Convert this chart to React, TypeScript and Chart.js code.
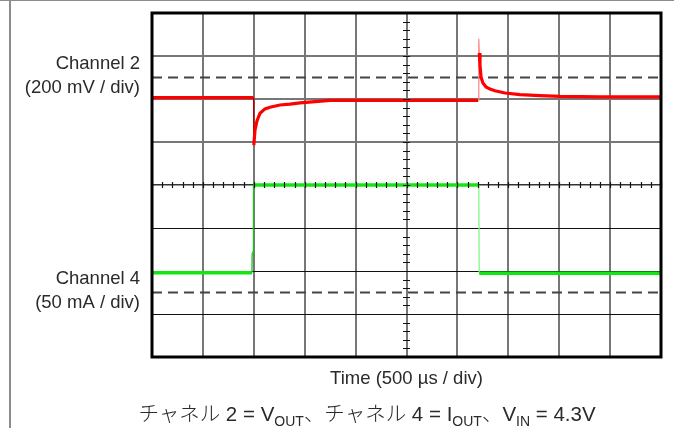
import React, { useEffect, useRef } from "react";
import { Chart, registerables } from "chart.js";

Chart.register(...registerables);

// Time axis in µs (500 µs / div), vertical values in screen divisions (0 = bottom, 8 = top)
const timeTicksStep = 500;
const timeMax = 5000;
const divMax = 8;

// Channel 2 (VOUT, red)
const ch2Time = [0, 998, 1000, 1012, 1031, 1061, 1110, 1159, 1257, 1356, 1454, 1601, 1749, 2500, 3205, 3210, 3215, 3222, 3232, 3251, 3281, 3320, 3369, 3468, 3615, 3811, 4008, 4401, 5000];
const ch2Div = [6.03, 6.03, 4.93, 5.28, 5.49, 5.67, 5.77, 5.81, 5.86, 5.88, 5.91, 5.94, 5.97, 5.97, 5.97, 7.4, 7.07, 6.79, 6.51, 6.37, 6.28, 6.23, 6.19, 6.14, 6.1, 6.08, 6.06, 6.05, 6.05];

// Channel 4 (IOUT, green)
const ch4Time = [0, 982, 984, 995, 997, 3210, 3214, 5000];
const ch4Div = [1.96, 1.96, 2.42, 2.42, 4.0, 4.0, 1.95, 1.95];

// Dashed reference (ground) levels of the two channels
const refLevels = [6.5, 1.5];

// Text
const xTitle = "Time (500 µs / div)";
const ch2Label = ["Channel 2", "(200 mV / div)"];
const ch4Label = ["Channel 4", "(50 mA / div)"];

const FONT = '"Liberation Sans", Arial, sans-serif';
const TEXT = "#2a2a2a";

const toPoints = (xs: number[], ys: number[]) => xs.map((x, i) => ({ x, y: ys[i] }));

const isEdge = (ctx: any) => Math.abs(ctx.p1.parsed.x - ctx.p0.parsed.x) <= 5;

const scopePlugin = {
  id: "scope",
  afterDatasetsDraw(chart: any) {
    const { ctx, chartArea: a, scales } = chart;
    const xs = scales.x;
    const ys = scales.y;
    const cx = xs.getPixelForValue(timeMax / 2);
    const cy = ys.getPixelForValue(divMax / 2);
    ctx.save();
    ctx.strokeStyle = "#111";
    ctx.lineWidth = 1.2;
    ctx.beginPath();
    for (let t = 0; t <= timeMax; t += timeTicksStep / 5) {
      const px = Math.round(xs.getPixelForValue(t)) + 0.5;
      ctx.moveTo(px, cy - 3);
      ctx.lineTo(px, cy + 3);
    }
    for (let v = 0; v <= divMax + 1e-9; v += 0.2) {
      const py = Math.round(ys.getPixelForValue(v)) + 0.5;
      ctx.moveTo(cx - 3.5, py);
      ctx.lineTo(cx + 3.5, py);
    }
    ctx.stroke();
    ctx.strokeStyle = "#000";
    ctx.lineWidth = 3;
    ctx.strokeRect(a.left, a.top, a.right - a.left, a.bottom - a.top);
    ctx.restore();
  },
  afterDraw(chart: any) {
    const { ctx, chartArea: a, scales } = chart;
    const ys = scales.y;
    ctx.save();
    ctx.font = `18.5px ${FONT}`;
    ctx.fillStyle = TEXT;
    ctx.textAlign = "right";
    ctx.textBaseline = "middle";
    const x = a.left - 12;
    const y2 = ys.getPixelForValue(refLevels[0]);
    ctx.fillText(ch2Label[0], x, y2 - 14);
    ctx.fillText(ch2Label[1], x, y2 + 10);
    const y4 = ys.getPixelForValue(refLevels[1]);
    ctx.fillText(ch4Label[0], x, y4 - 14);
    ctx.fillText(ch4Label[1], x, y4 + 10);
    ctx.restore();
  },
};

export default function App() {
  const ref = useRef<HTMLCanvasElement>(null);
  useEffect(() => {
    const chart = new Chart(ref.current as HTMLCanvasElement, {
      type: "line",
      data: {
        datasets: [
          {
            data: toPoints(ch2Time, ch2Div),
            borderColor: "#ff0000",
            borderWidth: 3.2,
            pointRadius: 0,
            tension: 0,
            segment: {
              borderColor: (c: any) => (isEdge(c) ? (c.p0.parsed.x < timeMax / 2 ? "#b00000" : "#ff8c8c") : undefined),
              borderWidth: (c: any) => (isEdge(c) ? 1.3 : undefined),
            },
          } as any,
          {
            data: toPoints(ch4Time, ch4Div),
            borderColor: "#14e614",
            borderWidth: 3.5,
            pointRadius: 0,
            tension: 0,
            segment: {
              borderColor: (c: any) => (isEdge(c) ? (c.p1.parsed.y > c.p0.parsed.y ? "#19c019" : "#86f586") : undefined),
              borderWidth: (c: any) => (isEdge(c) ? 1.3 : undefined),
            },
          } as any,
          ...refLevels.map((lv) => ({
            data: [
              { x: 0, y: lv },
              { x: timeMax, y: lv },
            ],
            borderColor: "#444",
            borderWidth: 2,
            borderDash: [10, 6],
            pointRadius: 0,
          })),
        ],
      },
      options: {
        animation: false,
        responsive: false,
        maintainAspectRatio: false,
        layout: { padding: { left: 152, right: 13, top: 13, bottom: 37.8 } },
        plugins: { legend: { display: false }, tooltip: { enabled: false } },
        scales: {
          x: {
            type: "linear",
            min: 0,
            max: timeMax,
            ticks: { display: false, stepSize: timeTicksStep },
            grid: { color: "#777", lineWidth: 2, drawTicks: false },
            border: { display: false },
            title: {
              display: true,
              text: xTitle,
              color: TEXT,
              font: { family: FONT, size: 18.5 },
              padding: { top: 11, bottom: 0 },
            },
          },
          y: {
            type: "linear",
            min: 0,
            max: divMax,
            ticks: { display: false, stepSize: 1 },
            grid: {
              drawTicks: false,
              color: (c: any) => (c.tick.value > divMax / 2 ? "#777" : c.tick.value === divMax / 2 ? "#333" : "#111"),
              lineWidth: (c: any) => (c.tick.value > divMax / 2 ? 2 : c.tick.value === divMax / 2 ? 1.5 : 1),
            },
            border: { display: false },
          },
        },
      } as any,
      plugins: [scopePlugin],
    });
    return () => chart.destroy();
  }, []);

  const sub: React.CSSProperties = { fontSize: 14, verticalAlign: "baseline", position: "relative", top: 5 };
  const jp: React.CSSProperties = { fontFamily: '"Noto Sans CJK JP", sans-serif', fontWeight: 300 };

  return (
    <div style={{ position: "fixed", left: 0, top: 0, width: 674, height: 428, overflow: "hidden", background: "#fff" }}>
      <div style={{ position: "absolute", left: 0, top: 0, width: 674, height: 1, background: "#8c8c8c" }} />
      <div style={{ position: "absolute", left: 9, top: 0, width: 2, height: 428, background: "#8c8c8c" }} />
      <canvas ref={ref} width={674} height={428} style={{ position: "absolute", left: 0, top: 0 }} />
      <div
        style={{
          position: "absolute",
          left: 0,
          width: 734,
          top: 400,
          textAlign: "center",
          fontFamily: FONT,
          fontSize: 20.5,
          lineHeight: "24px",
          color: TEXT,
          whiteSpace: "nowrap",
        }}
      >
        <span style={jp}>チャネル</span> 2 = V<span style={sub}>OUT</span>
        <span style={jp}>、チャネル</span> 4 = I<span style={sub}>OUT</span>
        <span style={jp}>、</span>V<span style={sub}>IN</span> = 4.3V
      </div>
    </div>
  );
}
